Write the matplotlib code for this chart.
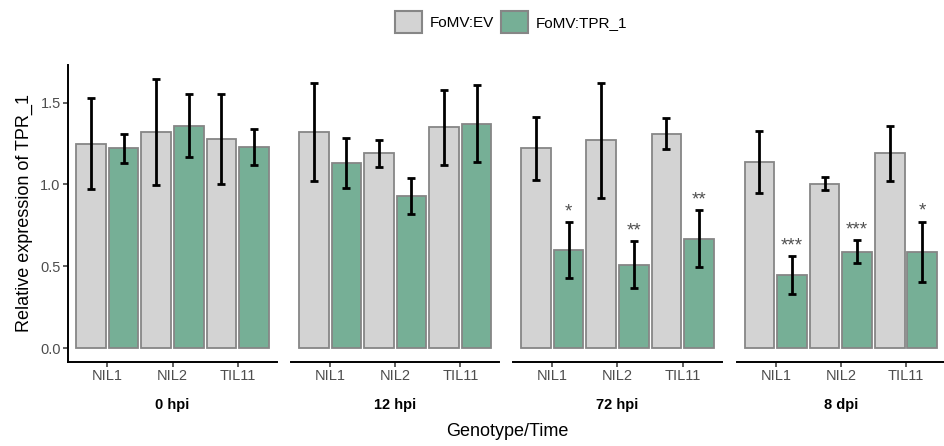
import numpy as np
import matplotlib
matplotlib.use("Agg")
import matplotlib.pyplot as plt
from matplotlib.patches import Patch

plt.rcParams['font.family'] = ['Liberation Sans', 'DejaVu Sans']

times = ["0 hpi", "12 hpi", "72 hpi", "8 dpi"]
genotypes = ["NIL1", "NIL2", "TIL11"]

# mean relative expression and error (half-width of bar) per time point
ev_mean = [[1.25, 1.32, 1.28], [1.32, 1.19, 1.35], [1.22, 1.27, 1.31], [1.135, 1.005, 1.19]]
ev_err = [[0.28, 0.325, 0.275], [0.30, 0.083, 0.23], [0.19, 0.353, 0.095], [0.19, 0.04, 0.17]]
tpr_mean = [[1.22, 1.36, 1.23], [1.13, 0.93, 1.37], [0.60, 0.51, 0.667], [0.445, 0.588, 0.588]]
tpr_err = [[0.09, 0.19, 0.11], [0.154, 0.11, 0.235], [0.17, 0.145, 0.174], [0.116, 0.07, 0.185]]
signif = [["", "", ""], ["", "", ""], ["*", "**", "**"], ["***", "***", "*"]]

ev_col = "#D3D3D3"
tpr_col = "#76AF96"
edge_col = "#868686"
grey30 = "#4D4D4D"

W, H = 945, 446
fig = plt.figure(figsize=(W / 100, H / 100), dpi=100)

panel_left = [68.3, 291.0, 513.3, 736.7]
panel_w = 208.4
y_top, y_bot = 65.0, 361.7

x = np.arange(1, 4)
off, bw = 0.25, 0.455

for i, t in enumerate(times):
    ax = fig.add_axes([panel_left[i] / W, (H - y_bot) / H, panel_w / W, (y_bot - y_top) / H])
    ax.bar(x - off, ev_mean[i], width=bw, color=ev_col, edgecolor=edge_col, linewidth=1.3, zorder=2)
    ax.bar(x + off, tpr_mean[i], width=bw, color=tpr_col, edgecolor=edge_col, linewidth=1.3, zorder=2)
    ax.errorbar(x - off, ev_mean[i], yerr=ev_err[i], fmt="none", ecolor="black",
                elinewidth=2.0, capsize=3.0, capthick=2.0, zorder=3)
    ax.errorbar(x + off, tpr_mean[i], yerr=tpr_err[i], fmt="none", ecolor="black",
                elinewidth=2.0, capsize=3.0, capthick=2.0, zorder=3)
    for j in range(3):
        if signif[i][j]:
            ax.text(x[j] + off, tpr_mean[i][j] + tpr_err[i][j] + 0.035, signif[i][j],
                    ha="center", va="baseline", fontsize=13.5, color="#505050")

    ax.set_xlim(0.4, 3.6)
    ax.set_ylim(-0.083, 1.73)
    ax.set_xticks(x)
    ax.set_xticklabels(genotypes, fontsize=10.5, color=grey30)
    ax.tick_params(axis="x", length=3.5, width=1.1, color="#333333", pad=2)
    for s in ["top", "right"]:
        ax.spines[s].set_visible(False)
    ax.spines["bottom"].set_linewidth(1.4)
    if i == 0:
        ax.spines["left"].set_linewidth(1.4)
        ax.set_yticks([0.0, 0.5, 1.0, 1.5])
        ax.set_yticklabels(["0.0", "0.5", "1.0", "1.5"], fontsize=10.5, color=grey30)
        ax.tick_params(axis="y", length=3.5, width=1.1, color="#333333", pad=2)
        ax.set_ylabel("Relative expression of TPR_1", fontsize=13)
        ax.yaxis.set_label_coords((33 - panel_left[0]) / panel_w, 0.5)
    else:
        ax.spines["left"].set_visible(False)
        ax.set_yticks([])
    # time point label under each panel
    fig.text((panel_left[i] + panel_w / 2) / W, (H - 405) / H, t, ha="center", va="center",
             fontsize=10.5, fontweight="bold")

fig.text(507 / W, (H - 432) / H, "Genotype/Time", ha="center", va="center", fontsize=13)

handles = [Patch(facecolor=ev_col, edgecolor=edge_col, linewidth=1.5, label="FoMV:EV"),
           Patch(facecolor=tpr_col, edgecolor=edge_col, linewidth=1.5, label="FoMV:TPR_1")]
fig.legend(handles=handles, loc="center", bbox_to_anchor=(511 / W, (H - 22) / H), ncol=2,
           frameon=False, fontsize=11, handlelength=1.75, handleheight=1.75, columnspacing=0.5,
           handletextpad=0.5)

fig.savefig("out.png", dpi=100)
